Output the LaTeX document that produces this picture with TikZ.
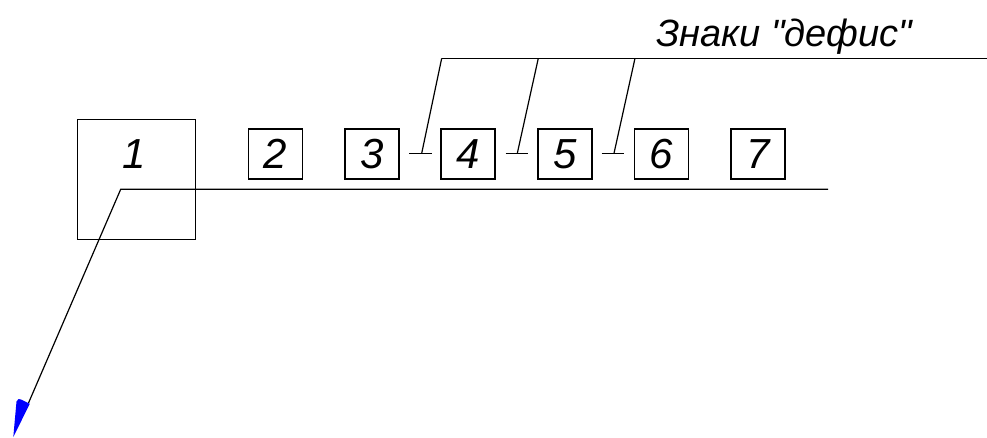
\documentclass[tikz,border=0pt]{standalone}
\usepackage{fontspec}
\setmainfont{Liberation Sans}
\newfontfamily\plainsans{Liberation Sans}
\begin{document}
\begin{tikzpicture}[x=1pt,y=-1pt,
  ln/.style={line width=1.2pt,black},
  numbox/.style={draw,line width=1.2pt,minimum width=54pt,minimum height=50pt,inner sep=0pt,
    font=\fontsize{42}{42}\selectfont\itshape},
  num/.style={inner sep=0pt,font=\fontsize{42}{42}\selectfont\itshape}]
\useasboundingbox (0,0) rectangle (987,438);
% big box 1
\node[draw,line width=1.2pt,minimum width=118pt,minimum height=120pt,inner sep=0pt] (b1) at (136.3,179.2) {};
\node[num] (t1) at (134,154) {1};
% small boxes
\node[numbox] (b2) at (275.5,154) {2};
\node[numbox] (b3) at (372,154) {3};
\node[numbox] (b4) at (468,154) {4};
\node[numbox] (b5) at (565,154) {5};
\node[numbox] (b6) at (661.6,154) {6};
\node[numbox] (b7) at (758,154) {7};
% main line and leader to arrow
\coordinate (k) at (120.7,189.3);
\coordinate (e) at (828,189.3);
\coordinate (ab) at (28.5,403);
\coordinate (tip) at (13.3,437);
\draw[ln] (e) -- (k) -- (ab);
\fill[blue] (tip) -- (16.5,401.5) -- (18.5,399) -- (21,399.5) -- (29.8,403.8) -- cycle;
% hyphen marks
\coordinate (h1a) at (409.3,153.3); \coordinate (h1b) at (431.7,153.3); \coordinate (h1m) at (421.7,153.3); \coordinate (u1) at (441.7,58.3);
\coordinate (h2a) at (505.7,153.3); \coordinate (h2b) at (527.7,153.3); \coordinate (h2m) at (517.3,153.3); \coordinate (u2) at (538.3,58.3);
\coordinate (h3a) at (601.7,153.3); \coordinate (h3b) at (624,153.3); \coordinate (h3m) at (614,153.3); \coordinate (u3) at (635,58.3);
\coordinate (r) at (987,58.3);
\draw[ln] (h1a) -- (h1b); \draw[ln] (h1m) -- (u1);
\draw[ln] (h2a) -- (h2b); \draw[ln] (h2m) -- (u2);
\draw[ln] (h3a) -- (h3b); \draw[ln] (h3m) -- (u3);
\draw[ln] (u1) -- (r);
\node[anchor=base west,inner sep=0pt,font=\fontsize{38}{38}\plainsans\itshape] (lbl) at (656,46.7) {Знаки "дефис"};
\end{tikzpicture}
\end{document}
